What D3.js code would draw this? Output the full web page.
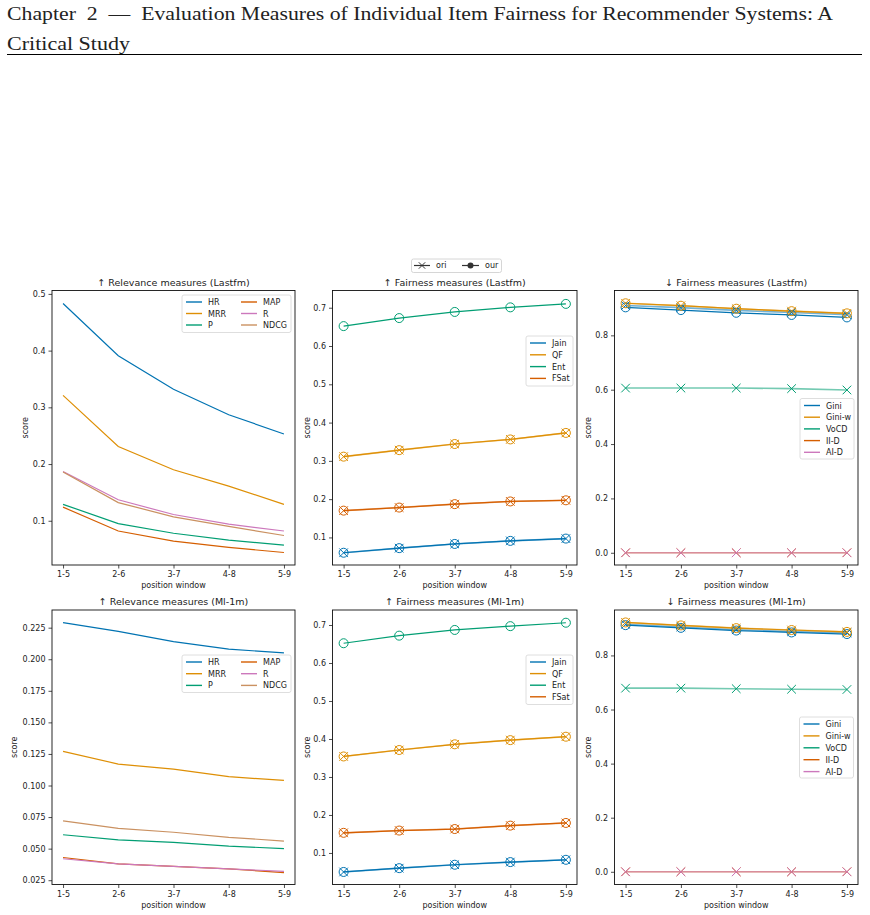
<!DOCTYPE html>
<html>
<head>
<meta charset="utf-8">
<script src="https://cdn.jsdelivr.net/npm/d3@7"></script>
<style>
  body { margin: 0; background: #fff; }
  svg { display: block; }
  text { font-family: "DejaVu Sans", sans-serif; fill: #222; }
  .hdr { font-family: "Liberation Serif", "DejaVu Serif", serif; fill: #222; }
</style>
</head>
<body>
<script>
// position windows on the x axis
var windows = ["1-5", "2-6", "3-7", "4-8", "5-9"];

// seaborn colorblind palette
var palette = ["#0173b2", "#de8f05", "#029e73", "#d55e00", "#cc78bc", "#ca9161"];

// Relevance, Lastfm
var relLastfmHR   = [0.483, 0.391, 0.332, 0.287, 0.253];
var relLastfmMRR  = [0.321, 0.231, 0.190, 0.161, 0.129];
var relLastfmP    = [0.129, 0.095, 0.078, 0.066, 0.057];
var relLastfmMAP  = [0.124, 0.082, 0.064, 0.053, 0.044];
var relLastfmR    = [0.187, 0.137, 0.111, 0.094, 0.082];
var relLastfmNDCG = [0.186, 0.132, 0.107, 0.090, 0.074];

// Fairness (higher is fairer), Lastfm
var upLastfmJain = [0.060, 0.072, 0.083, 0.091, 0.097];
var upLastfmQF   = [0.311, 0.328, 0.344, 0.356, 0.373];
var upLastfmEnt  = [0.652, 0.673, 0.689, 0.701, 0.710];
var upLastfmFSat = [0.170, 0.178, 0.187, 0.194, 0.197];

// Fairness (lower is fairer), Lastfm
var downLastfmGiniOri = [0.910, 0.902, 0.892, 0.884, 0.876];
var downLastfmGiniOur = [0.903, 0.893, 0.883, 0.875, 0.866];
var downLastfmGiniW   = [0.918, 0.909, 0.898, 0.889, 0.881];
var downLastfmVoCD    = [0.606, 0.606, 0.606, 0.604, 0.599];
var downLastfmIID     = [0, 0, 0, 0, 0];
var downLastfmAID     = [0, 0, 0, 0, 0];

// Relevance, Ml-1m
var relMlHR   = [0.229, 0.222, 0.214, 0.208, 0.205];
var relMlMRR  = [0.127, 0.117, 0.113, 0.107, 0.104];
var relMlP    = [0.061, 0.057, 0.055, 0.052, 0.050];
var relMlMAP  = [0.043, 0.038, 0.036, 0.034, 0.031];
var relMlR    = [0.042, 0.038, 0.036, 0.034, 0.032];
var relMlNDCG = [0.072, 0.066, 0.063, 0.059, 0.056];

// Fairness (higher is fairer), Ml-1m
var upMlJain = [0.050, 0.060, 0.069, 0.076, 0.082];
var upMlQF   = [0.354, 0.371, 0.386, 0.397, 0.406];
var upMlEnt  = [0.652, 0.672, 0.687, 0.697, 0.706];
var upMlFSat = [0.153, 0.159, 0.163, 0.172, 0.179];

// Fairness (lower is fairer), Ml-1m
var downMlGiniOri = [0.915, 0.905, 0.895, 0.888, 0.883];
var downMlGiniOur = [0.912, 0.902, 0.892, 0.885, 0.879];
var downMlGiniW   = [0.922, 0.911, 0.901, 0.894, 0.887];
var downMlVoCD    = [0.679, 0.679, 0.677, 0.675, 0.674];
var downMlIID     = [0, 0, 0, 0, 0];
var downMlAID     = [0, 0, 0, 0, 0];

var relTicksLastfm = [0.1, 0.2, 0.3, 0.4, 0.5];
var relTicksMl = [0.025, 0.05, 0.075, 0.1, 0.125, 0.15, 0.175, 0.2, 0.225];
var upTicks = [0.1, 0.2, 0.3, 0.4, 0.5, 0.6, 0.7];
var downTicks = [0, 0.2, 0.4, 0.6, 0.8];

var svg = d3.select("body").append("svg")
    .attr("width", 870)
    .attr("height", 915);

// page header
svg.append("text").attr("class", "hdr")
    .attr("x", 7).attr("y", 20)
    .attr("font-size", 19)
    .attr("textLength", 826).attr("lengthAdjust", "spacingAndGlyphs")
    .text("Chapter\u00a0\u00a02\u00a0\u00a0\u2014\u00a0\u00a0Evaluation Measures of Individual Item Fairness for Recommender Systems: A");
svg.append("text").attr("class", "hdr")
    .attr("x", 7).attr("y", 50)
    .attr("font-size", 19)
    .attr("textLength", 123).attr("lengthAdjust", "spacingAndGlyphs")
    .text("Critical Study");
svg.append("line")
    .attr("x1", 7).attr("x2", 862).attr("y1", 54.5).attr("y2", 54.5)
    .attr("stroke", "#000").attr("stroke-width", 1);

// shared legend for the ori / our markers
var topLeg = svg.append("g");
topLeg.append("rect")
    .attr("x", 411.5).attr("y", 259).attr("width", 90).attr("height", 13.5)
    .attr("rx", 2).attr("fill", "#fff").attr("stroke", "#ccc").attr("stroke-width", 0.8);
topLeg.append("line").attr("x1", 414).attr("x2", 430).attr("y1", 265.5).attr("y2", 265.5)
    .attr("stroke", "#333").attr("stroke-width", 1.2);
topLeg.append("path").attr("d", xMark(422, 265.5, 3.2))
    .attr("stroke", "#333").attr("stroke-width", 1).attr("fill", "none");
topLeg.append("text").attr("x", 436).attr("y", 268.3).attr("font-size", 8).text("ori");
topLeg.append("line").attr("x1", 462).attr("x2", 479).attr("y1", 265.5).attr("y2", 265.5)
    .attr("stroke", "#333").attr("stroke-width", 1.2);
topLeg.append("circle").attr("cx", 470.5).attr("cy", 265.5).attr("r", 3)
    .attr("fill", "#333");
topLeg.append("text").attr("x", 485).attr("y", 268.3).attr("font-size", 8).text("our");

function xMark(cx, cy, s) {
    return "M" + (cx - s) + "," + (cy - s) + "L" + (cx + s) + "," + (cy + s) +
        "M" + (cx - s) + "," + (cy + s) + "L" + (cx + s) + "," + (cy - s);
}

function panel(cfg) {
    var g = svg.append("g");
    var x = d3.scaleLinear().domain([-0.2, 4.2]).range([cfg.x0, cfg.x1]);
    var y = d3.scaleLinear().domain(cfg.domain).range([cfg.y1, cfg.y0]);

    var line = d3.line()
        .x(function (d, i) { return x(i); })
        .y(function (d) { return y(d); });

    // lines first, markers on top
    cfg.series.forEach(function (s) {
        if (s.ori) {
            g.append("path").datum(s.ori)
                .attr("d", line).attr("fill", "none")
                .attr("stroke", s.color).attr("stroke-width", 1.6).attr("opacity", 0.55);
        }
        if (s.our) {
            g.append("path").datum(s.our)
                .attr("d", line).attr("fill", "none")
                .attr("stroke", s.color).attr("stroke-width", 1.2);
        }
        if (s.values) {
            g.append("path").datum(s.values)
                .attr("d", line).attr("fill", "none")
                .attr("stroke", s.color).attr("stroke-width", 1.2);
        }
    });
    cfg.series.forEach(function (s) {
        if (s.ori) {
            g.selectAll(null).data(s.ori).enter().append("path")
                .attr("d", function (d, i) { return xMark(x(i), y(d), 4.3); })
                .attr("stroke", s.color).attr("stroke-width", 1).attr("fill", "none");
        }
        if (s.our) {
            g.selectAll(null).data(s.our).enter().append("circle")
                .attr("cx", function (d, i) { return x(i); })
                .attr("cy", function (d) { return y(d); })
                .attr("r", 4.5)
                .attr("stroke", s.color).attr("stroke-width", 1).attr("fill", "none");
        }
    });

    // axes
    var yAxis = g.append("g")
        .attr("transform", "translate(" + cfg.x0 + ",0)")
        .call(d3.axisLeft(y).tickValues(cfg.ticks).tickFormat(cfg.fmt)
            .tickSize(3.5).tickPadding(3));
    var xAxis = g.append("g")
        .attr("transform", "translate(0," + cfg.y1 + ")")
        .call(d3.axisBottom(x).tickValues([0, 1, 2, 3, 4])
            .tickFormat(function (i) { return windows[i]; })
            .tickSize(3.5).tickPadding(3));
    [yAxis, xAxis].forEach(function (a) {
        a.select(".domain").remove();
        a.selectAll("line").attr("stroke", "#222").attr("stroke-width", 0.8);
        a.selectAll("text").attr("font-size", 8).attr("fill", "#222")
            .attr("font-family", "DejaVu Sans");
    });

    g.append("rect")
        .attr("x", cfg.x0).attr("y", cfg.y0)
        .attr("width", cfg.x1 - cfg.x0).attr("height", cfg.y1 - cfg.y0)
        .attr("fill", "none").attr("stroke", "#111").attr("stroke-width", 0.9);

    g.append("text")
        .attr("x", (cfg.x0 + cfg.x1) / 2).attr("y", cfg.y0 - 5)
        .attr("text-anchor", "middle").attr("font-size", 9.5)
        .text(cfg.title);
    g.append("text")
        .attr("x", (cfg.x0 + cfg.x1) / 2).attr("y", cfg.y1 + 23)
        .attr("text-anchor", "middle").attr("font-size", 8)
        .text("position window");
    g.append("text")
        .attr("transform", "translate(" + cfg.ylabX + "," + ((cfg.y0 + cfg.y1) / 2) + ") rotate(-90)")
        .attr("text-anchor", "middle").attr("font-size", 8)
        .text("score");

    // legend
    var L = cfg.legend;
    var lg = g.append("g");
    lg.append("rect")
        .attr("x", L.x).attr("y", L.y).attr("width", L.w).attr("height", L.h)
        .attr("rx", 2).attr("fill", "#fff").attr("fill-opacity", 0.85)
        .attr("stroke", "#d5d5d5").attr("stroke-width", 0.8);
    cfg.series.forEach(function (s, i) {
        var col = Math.floor(i / L.rows), row = i % L.rows;
        var lx = L.x + 4 + col * L.colW, ly = L.y + 7 + row * L.rowH;
        lg.append("line")
            .attr("x1", lx).attr("x2", lx + 16).attr("y1", ly).attr("y2", ly)
            .attr("stroke", s.color).attr("stroke-width", 1.4);
        lg.append("text").attr("x", lx + 22).attr("y", ly + 3)
            .attr("font-size", 8).text(s.name);
    });
}

var f1 = d3.format(".1f"), f3 = d3.format(".3f");
var colL = [52, 295], colM = [332.5, 577], colR = [614.5, 858];
var rowT = [290.5, 565], rowB = [610, 884.5];

panel({
    x0: colL[0], x1: colL[1], y0: rowT[0], y1: rowT[1],
    domain: [0.022, 0.506], ticks: relTicksLastfm, fmt: f1, ylabX: 28,
    title: "\u2191 Relevance measures (Lastfm)",
    series: [
        { name: "HR", color: palette[0], values: relLastfmHR },
        { name: "MRR", color: palette[1], values: relLastfmMRR },
        { name: "P", color: palette[2], values: relLastfmP },
        { name: "MAP", color: palette[3], values: relLastfmMAP },
        { name: "R", color: palette[4], values: relLastfmR },
        { name: "NDCG", color: palette[5], values: relLastfmNDCG }
    ],
    legend: { x: 182, y: 295, w: 109, h: 37.5, rows: 3, rowH: 11.5, colW: 55 }
});

panel({
    x0: colM[0], x1: colM[1], y0: rowT[0], y1: rowT[1],
    domain: [0.028, 0.745], ticks: upTicks, fmt: f1, ylabX: 310,
    title: "\u2191 Fairness measures (Lastfm)",
    series: [
        { name: "Jain", color: palette[0], ori: upLastfmJain, our: upLastfmJain },
        { name: "QF", color: palette[1], ori: upLastfmQF, our: upLastfmQF },
        { name: "Ent", color: palette[2], our: upLastfmEnt },
        { name: "FSat", color: palette[3], ori: upLastfmFSat, our: upLastfmFSat }
    ],
    legend: { x: 526, y: 336, w: 47, h: 50, rows: 4, rowH: 11.8, colW: 0 }
});

panel({
    x0: colR[0], x1: colR[1], y0: rowT[0], y1: rowT[1],
    domain: [-0.045, 0.965], ticks: downTicks, fmt: f1, ylabX: 591,
    title: "\u2193 Fairness measures (Lastfm)",
    series: [
        { name: "Gini", color: palette[0], ori: downLastfmGiniOri, our: downLastfmGiniOur },
        { name: "Gini-w", color: palette[1], ori: downLastfmGiniW, our: downLastfmGiniW },
        { name: "VoCD", color: palette[2], ori: downLastfmVoCD },
        { name: "II-D", color: palette[3], ori: downLastfmIID },
        { name: "AI-D", color: palette[4], ori: downLastfmAID }
    ],
    legend: { x: 800, y: 398.5, w: 54, h: 60.5, rows: 5, rowH: 11.7, colW: 0 }
});

panel({
    x0: colL[0], x1: colL[1], y0: rowB[0], y1: rowB[1],
    domain: [0.0216, 0.239], ticks: relTicksMl, fmt: f3, ylabX: 17,
    title: "\u2191 Relevance measures (Ml-1m)",
    series: [
        { name: "HR", color: palette[0], values: relMlHR },
        { name: "MRR", color: palette[1], values: relMlMRR },
        { name: "P", color: palette[2], values: relMlP },
        { name: "MAP", color: palette[3], values: relMlMAP },
        { name: "R", color: palette[4], values: relMlR },
        { name: "NDCG", color: palette[5], values: relMlNDCG }
    ],
    legend: { x: 182, y: 655, w: 109, h: 37.5, rows: 3, rowH: 11.7, colW: 55 }
});

panel({
    x0: colM[0], x1: colM[1], y0: rowB[0], y1: rowB[1],
    domain: [0.017, 0.7395], ticks: upTicks, fmt: f1, ylabX: 310,
    title: "\u2191 Fairness measures (Ml-1m)",
    series: [
        { name: "Jain", color: palette[0], ori: upMlJain, our: upMlJain },
        { name: "QF", color: palette[1], ori: upMlQF, our: upMlQF },
        { name: "Ent", color: palette[2], our: upMlEnt },
        { name: "FSat", color: palette[3], ori: upMlFSat, our: upMlFSat }
    ],
    legend: { x: 526, y: 655, w: 47, h: 49.5, rows: 4, rowH: 11.6, colW: 0 }
});

panel({
    x0: colR[0], x1: colR[1], y0: rowB[0], y1: rowB[1],
    domain: [-0.047, 0.968], ticks: downTicks, fmt: f1, ylabX: 591,
    title: "\u2193 Fairness measures (Ml-1m)",
    series: [
        { name: "Gini", color: palette[0], ori: downMlGiniOri, our: downMlGiniOur },
        { name: "Gini-w", color: palette[1], ori: downMlGiniW, our: downMlGiniW },
        { name: "VoCD", color: palette[2], ori: downMlVoCD },
        { name: "II-D", color: palette[3], ori: downMlIID },
        { name: "AI-D", color: palette[4], ori: downMlAID }
    ],
    legend: { x: 799.5, y: 717, w: 54, h: 61, rows: 5, rowH: 11.9, colW: 0 }
});
</script>
</body>
</html>
